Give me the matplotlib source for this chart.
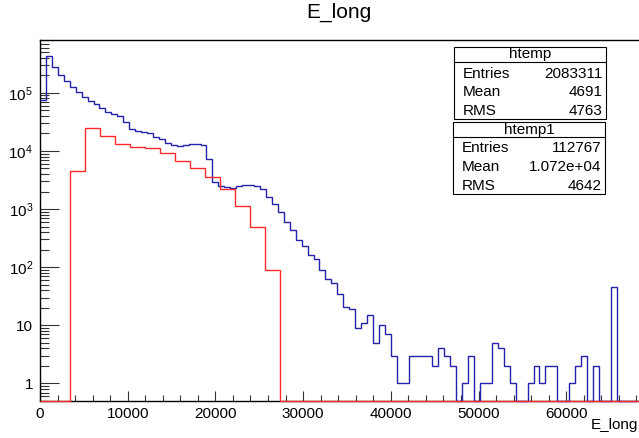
import numpy as np
import matplotlib
matplotlib.use('Agg')
from matplotlib import pyplot as plt
from matplotlib.patches import Rectangle
from matplotlib.lines import Line2D
from matplotlib.ticker import LogLocator, MultipleLocator, FuncFormatter, NullFormatter

plt.rcParams['font.family'] = ['Liberation Sans', 'DejaVu Sans']
plt.rcParams['mathtext.fontset'] = 'custom'
plt.rcParams['mathtext.rm'] = 'Liberation Sans'
plt.rcParams['mathtext.it'] = 'Liberation Sans'

# htemp (blue), 100 bins
blue_width = 678
blue_counts = [
	74000, 430000, 280000, 203000, 158000, 126000, 102000, 85000, 73000, 63000,
	55000, 46000, 43000, 39700, 32000, 24000, 22000, 21000, 20000, 17500,
	16200, 13700, 12800, 12100, 12600, 13300, 13000, 12600, 7260, 2950,
	2460, 2360, 2270, 2450, 2600, 2620, 2490, 2180, 1590, 1230,
	877, 604, 430, 292, 231, 161, 136, 89, 62, 54,
	34, 21, 19, 9, 11, 15, 5, 10, 7, 3,
	1, 1, 3, 3, 3, 3, 2, 4, 3, 2,
	0, 1, 3, 0, 1, 1, 5, 4, 2, 1,
	0, 0, 1, 2, 1, 2, 2, 0, 0, 1,
	2, 3, 0, 2, 0, 0, 46, 0, 0, 0,
]

# htemp1 (red), 40 bins
red_width = 1710
red_counts = [
	0, 0, 4460, 25000, 18000, 13100, 11500, 11100, 9100, 6750,
	5050, 3500, 2210, 1140, 496, 90, 0, 0, 0, 0,
	0, 0, 0, 0, 0, 0, 0, 0, 0, 0,
	0, 0, 0, 0, 0, 0, 0, 0, 0, 0,
]

stats_blue = [('Entries', '2083311'), ('Mean', '4691'), ('RMS', '4763')]
stats_red = [('Entries', '112767'), ('Mean', '1.072e+04'), ('RMS', '4642')]

W, H = 639, 438
ymin, ymax = 0.5, 8.1e5
xmax = 600.5 / 87.7 * 10000

fig = plt.figure(figsize=(W / 100, H / 100), dpi=100)
ax = fig.add_axes([40 / W, 37 / H, 600.5 / W, 361 / H])


def fx(px):
	return px / W


def fy(py):
	return 1 - py / H


def draw_hist(counts, width, color):
	counts = np.array(counts, dtype=float)
	edges = np.arange(len(counts) + 1) * width
	shown = np.where(counts > 0, counts, ymin)
	ax.stairs(shown, edges, baseline=None, color=color, lw=1.0,
		clip_on=False, zorder=3)


draw_hist(blue_counts, blue_width, '#2222aa')
draw_hist(red_counts, red_width, '#ff2a2a')

ax.set_yscale('log')
ax.set_xlim(0, xmax)
ax.set_ylim(ymin, ymax)

ax.yaxis.set_major_locator(LogLocator(base=10, numticks=20))
ax.yaxis.set_minor_locator(LogLocator(base=10, subs=np.arange(2, 10), numticks=20))


def ylab(v, pos):
	e = int(round(np.log10(v)))
	if e == 0:
		return '1'
	if e == 1:
		return '10'
	return r'$\mathregular{10^{%d}}$' % e


ax.yaxis.set_major_formatter(FuncFormatter(ylab))
ax.yaxis.set_minor_formatter(NullFormatter())
ax.xaxis.set_major_locator(MultipleLocator(10000))
ax.xaxis.set_minor_locator(MultipleLocator(2000))
ax.xaxis.set_major_formatter(FuncFormatter(lambda v, p: '%d' % v))

ax.tick_params(axis='both', which='both', direction='in', top=False, right=False,
	labelsize=11, width=0.8, color='#333333')
ax.tick_params(axis='y', which='major', length=13.5, pad=5)
ax.tick_params(axis='y', which='minor', length=6.8)
ax.tick_params(axis='x', which='major', length=7.5, pad=4)
ax.tick_params(axis='x', which='minor', length=4.5)
for s in ax.spines.values():
	s.set_linewidth(1.0)
ax.spines['right'].set_visible(False)

fig.text(fx(339), fy(12), 'E_long', ha='center', va='center', fontsize=15)
fig.text(fx(638), fy(425), 'E_long', ha='right', va='center', fontsize=11)


def stats_box(x0, x1, y0, yline, y1, title, rows, row_y):
	fig.add_artist(Rectangle((fx(x0), fy(y1)), (x1 - x0) / W, (y1 - y0) / H,
		transform=fig.transFigure, facecolor='white', edgecolor='black', lw=0.8, zorder=5))
	fig.add_artist(Line2D([fx(x0), fx(x1)], [fy(yline), fy(yline)],
		transform=fig.transFigure, color='black', lw=0.8, zorder=6))
	fig.text(fx((x0 + x1) / 2), fy((y0 + yline) / 2), title, ha='center', va='center',
		fontsize=11, zorder=7)
	for (name, val), yy in zip(rows, row_y):
		fig.text(fx(x0 + 8), fy(yy), name, ha='left', va='center', fontsize=11, zorder=7)
		fig.text(fx(x1 - 3), fy(yy), val, ha='right', va='center', fontsize=11, zorder=7)


stats_box(454.3, 605.7, 46.7, 62, 119, 'htemp', stats_blue, [74, 92.3, 110.7])
stats_box(453.3, 604.7, 122, 137.3, 194, 'htemp1', stats_red, [148.3, 167.3, 185.7])

fig.savefig('out.png', dpi=100)
